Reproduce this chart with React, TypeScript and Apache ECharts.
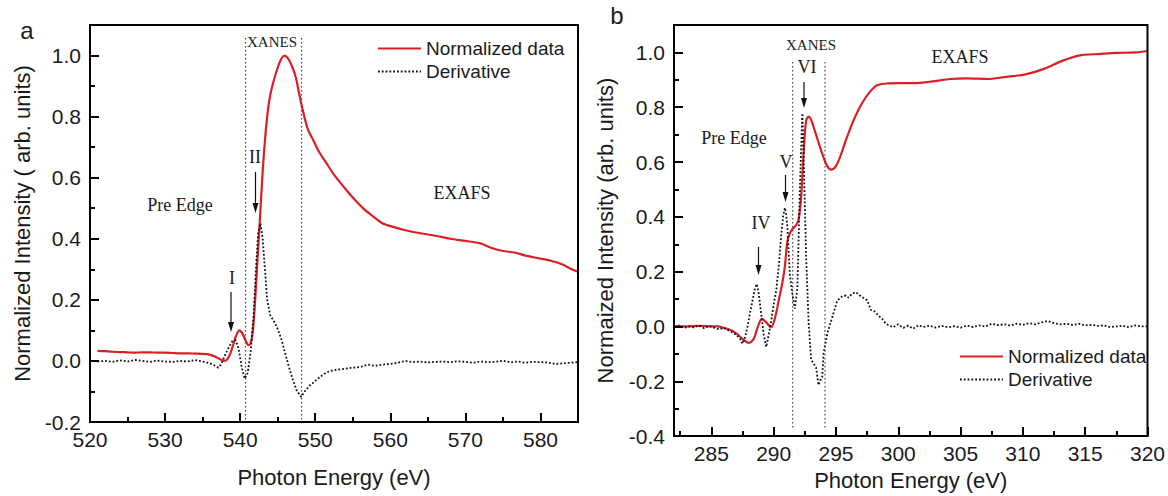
import React, { useEffect, useRef } from "react";
import * as echarts from "echarts";

// ---------- Panel a data ----------
const aNormX = [521, 522, 523, 524, 525, 526, 527, 528, 529, 530, 531, 532, 533, 534, 535, 535.5, 536, 536.5, 537, 537.5, 537.9, 538.3, 538.7, 539.1, 539.5, 539.9, 540.3, 540.7, 541.1, 541.4, 541.7, 542.0, 542.3, 542.6, 542.9, 543.2, 543.6, 544.0, 544.5, 545.0, 545.5, 545.9, 546.4, 546.9, 547.4, 547.9, 548.4, 549.0, 549.9, 550.5, 551.3, 552.5, 553.9, 555.0, 556.5, 558.0, 559.0, 560.5, 562.0, 564.0, 566.0, 568.0, 570.0, 572.0, 573.5, 575.0, 576.5, 578.0, 580.0, 581.5, 583.0, 584.0, 585.0];
const aNormY = [0.033, 0.032, 0.030, 0.029, 0.028, 0.027, 0.028, 0.028, 0.027, 0.027, 0.026, 0.025, 0.025, 0.024, 0.023, 0.022, 0.020, 0.016, 0.010, 0.003, 0.000, 0.006, 0.025, 0.055, 0.085, 0.100, 0.090, 0.068, 0.052, 0.058, 0.10, 0.20, 0.33, 0.45, 0.58, 0.69, 0.80, 0.87, 0.92, 0.96, 0.99, 1.00, 0.99, 0.965, 0.93, 0.87, 0.815, 0.76, 0.715, 0.685, 0.655, 0.61, 0.567, 0.535, 0.497, 0.468, 0.45, 0.438, 0.428, 0.418, 0.41, 0.40, 0.393, 0.385, 0.37, 0.36, 0.355, 0.345, 0.335, 0.327, 0.315, 0.302, 0.292];

const aDerX = [521, 522, 523, 524, 525, 526, 527, 528, 529, 530, 531, 532, 533, 534, 535, 536, 536.6, 537.1, 537.5, 538.0, 538.5, 539.0, 539.4, 539.8, 540.2, 540.6, 541.0, 541.4, 541.8, 542.1, 542.4, 542.7, 543.0, 543.3, 543.6, 544.0, 544.5, 545.0, 545.5, 546.0, 546.5, 547.0, 547.5, 548.1, 548.6, 549.2, 549.8, 550.5, 551.5, 552.5, 553.5, 554.7, 556, 557, 558, 559, 560, 561, 562, 563, 564, 565, 566, 567, 568, 569, 570, 571, 572, 573, 574, 575, 576, 577, 578, 579, 580, 581, 582, 583, 584, 585];
const aDerY = [-0.002, 0.0, -0.003, 0.002, -0.002, 0.003, 0.0, -0.003, 0.001, -0.002, -0.003, 0.0, -0.002, 0.003, -0.002, -0.008, -0.015, -0.022, -0.01, 0.02, 0.045, 0.066, 0.068, 0.04, -0.02, -0.058, -0.04, 0.03, 0.15, 0.30, 0.42, 0.45, 0.40, 0.30, 0.20, 0.15, 0.13, 0.105, 0.07, 0.025, -0.02, -0.06, -0.095, -0.118, -0.10, -0.082, -0.07, -0.055, -0.037, -0.03, -0.027, -0.023, -0.02, -0.012, -0.016, -0.012, -0.01, -0.006, 0.0, -0.004, -0.002, -0.005, -0.003, -0.002, -0.004, -0.001, -0.003, -0.006, -0.002, -0.004, -0.003, 0.001, -0.005, -0.002, -0.006, -0.003, -0.004, -0.005, -0.01, -0.008, -0.006, -0.004];

// ---------- Panel b data ----------
const bNormX = [282, 283, 284, 285, 285.5, 286, 286.5, 287, 287.5, 288.0, 288.4, 288.7, 289.05, 289.4, 289.8, 290.1, 290.4, 290.7, 290.9, 291.1, 291.3, 291.5, 291.8, 292.0, 292.2, 292.4, 292.6, 292.8, 293.0, 293.4, 293.9, 294.3, 294.6, 295.0, 295.4, 295.8, 296.3, 296.8, 297.3, 297.7, 298.3, 299.2, 300, 301.3, 302.5, 304.2, 305.5, 307.2, 308.5, 310.2, 311.7, 313.2, 314.7, 316.1, 317.5, 319.1, 320];
const bNormY = [0.0, 0.0, 0.002, 0.0, 0.0, -0.005, -0.012, -0.025, -0.045, -0.06, -0.045, -0.005, 0.028, 0.015, -0.003, 0.03, 0.094, 0.16, 0.22, 0.31, 0.34, 0.355, 0.37, 0.39, 0.47, 0.63, 0.75, 0.766, 0.755, 0.70, 0.63, 0.585, 0.572, 0.585, 0.627, 0.68, 0.74, 0.79, 0.83, 0.855, 0.88, 0.887, 0.888, 0.888, 0.893, 0.903, 0.905, 0.903, 0.91, 0.92, 0.94, 0.97, 0.99, 0.994, 0.998, 1.0, 1.005];

const bDerX = [282, 282.4, 282.8, 283.2, 283.6, 284.0, 284.4, 284.8, 285.2, 285.6, 286.0, 286.4, 286.7, 287.0, 287.3, 287.5, 287.7, 287.9, 288.1, 288.3, 288.5, 288.65, 288.8, 289.0, 289.2, 289.4, 289.6, 289.8, 290.0, 290.2, 290.4, 290.6, 290.75, 290.9, 291.0, 291.1, 291.3, 291.5, 291.7, 291.9, 292.1, 292.3, 292.4, 292.6, 292.8, 293.0, 293.2, 293.4, 293.6, 293.8, 293.9, 294.0, 294.3, 294.7, 295.1, 295.5, 295.8, 296.0, 296.3, 296.6, 297.0, 297.5, 297.8, 298.1, 298.4, 298.7, 299.0, 299.3, 299.6, 300.0, 300.4, 300.8, 301.2, 301.6, 302.0, 302.5, 303.0, 303.5, 304.0, 304.5, 305.0, 305.5, 306.0, 306.5, 307.0, 307.5, 308.0, 308.5, 309.0, 309.5, 310.0, 310.5, 311.0, 311.5, 312.0, 312.5, 313.0, 313.5, 314.0, 314.5, 315.0, 315.5, 316.0, 316.5, 317.0, 317.5, 318.0, 318.5, 319.0, 319.5, 320.0];
const bDerY = [0.0, 0.003, -0.005, 0.0, -0.003, 0.004, -0.006, 0.002, -0.004, -0.01, -0.005, -0.015, -0.022, -0.03, -0.045, -0.063, -0.04, 0.0, 0.05, 0.094, 0.14, 0.155, 0.12, 0.046, -0.03, -0.075, -0.03, 0.02, 0.08, 0.13, 0.215, 0.33, 0.40, 0.433, 0.41, 0.36, 0.19, 0.118, 0.065, 0.14, 0.5, 0.778, 0.63, 0.26, 0.02, -0.12, -0.135, -0.15, -0.214, -0.19, -0.184, -0.1, -0.027, 0.034, 0.094, 0.11, 0.113, 0.105, 0.12, 0.125, 0.11, 0.096, 0.06, 0.055, 0.04, 0.028, 0.01, 0.003, -0.003, 0.008, -0.005, 0.003, -0.008, 0.004, -0.002, 0.003, -0.004, 0.002, -0.003, 0.001, -0.004, 0.003, -0.002, 0.004, 0.0, 0.01, 0.005, 0.008, 0.003, 0.01, 0.006, 0.012, 0.008, 0.015, 0.02, 0.012, 0.008, 0.01, 0.005, 0.01, 0.004, 0.006, 0.002, 0.004, -0.002, 0.0, 0.003, -0.003, 0.004, 0.0, 0.0];

// ---------- Ticks ----------
const aXTicks = [520, 530, 540, 550, 560, 570, 580];
const aXMinor = [525, 535, 545, 555, 565, 575];
const aYTicks = [-0.2, 0, 0.2, 0.4, 0.6, 0.8, 1.0];
const aYMinor = [-0.1, 0.1, 0.3, 0.5, 0.7, 0.9];
const bXTicks = [285, 290, 295, 300, 305, 310, 315, 320];
const bXMinor = [282.5, 287.5, 292.5, 297.5, 302.5, 307.5, 312.5, 317.5];
const bYTicks = [-0.4, -0.2, 0, 0.2, 0.4, 0.6, 0.8, 1.0];
const bYMinor = [-0.3, -0.1, 0.1, 0.3, 0.5, 0.7, 0.9];

const seriesNames = ["Normalized data", "Derivative"];

const SANS = "'Liberation Sans', Arial, sans-serif";
const SERIF = "'Liberation Serif', 'Times New Roman', serif";
const RED = "#da1f26";
const INK = "black";

const zip = (xs: number[], ys: number[]) => xs.map((x, i) => [x, ys[i]]);

function fmtY(v: number) {
  const r = Math.round(v * 10) / 10;
  return (r === 0 ? 0 : r).toFixed(1);
}
function fmtX(v: number) {
  return String(Math.round(v));
}

function axisPair(
  dim: "x" | "y",
  gridIndex: number,
  min: number,
  max: number,
  ticks: number[],
  minor: number[],
  name: string,
  nameGap: number
) {
  const position = dim === "x" ? "bottom" : "left";
  const main: any = {
    type: "value",
    gridIndex,
    position,
    min,
    max,
    z: 10,
    name,
    nameLocation: "middle",
    nameGap,
    nameTextStyle: { fontSize: 22, fontFamily: SANS, color: "#1a1a1a" },
    axisLine: { show: true, onZero: false, lineStyle: { color: INK, width: 2 } },
    splitLine: { show: false },
    axisTick: {
      show: true,
      inside: true,
      length: 9,
      customValues: ticks,
      lineStyle: { color: INK, width: 2 },
    },
    axisLabel: {
      show: true,
      customValues: ticks,
      margin: dim === "x" ? 7 : 9,
      fontSize: 21,
      fontFamily: SANS,
      color: "#1a1a1a",
      formatter: dim === "x" ? fmtX : fmtY,
    },
  };
  if (dim === "y") main.nameRotate = 90;
  const sub: any = {
    type: "value",
    gridIndex,
    position,
    min,
    max,
    z: 10,
    axisLine: { show: true, onZero: false, lineStyle: { color: INK, width: 2 } },
    splitLine: { show: false },
    axisLabel: { show: false },
    axisTick: {
      show: true,
      inside: true,
      length: 5,
      customValues: minor,
      lineStyle: { color: INK, width: 2 },
    },
  };
  return [main, sub];
}

function txt(x: number, y: number, s: string, size: number, font = SERIF) {
  return {
    type: "text",
    x,
    y,
    silent: true,
    style: {
      text: s,
      fontSize: size,
      fontFamily: font,
      fill: "#1a1a1a",
      align: "center",
      verticalAlign: "middle",
    },
  };
}

function arrow(x: number, y1: number, y2: number) {
  return [
    {
      type: "line",
      silent: true,
      shape: { x1: x, y1, x2: x, y2: y2 - 8 },
      style: { stroke: "#111", lineWidth: 1.2 },
    },
    {
      type: "polygon",
      silent: true,
      shape: { points: [[x - 3, y2 - 10], [x + 3, y2 - 10], [x, y2]] },
      style: { fill: "#111" },
    },
  ];
}

function vline(x: number, y1: number, y2: number) {
  return {
    type: "line",
    silent: true,
    shape: { x1: x, y1, x2: x, y2 },
    style: { stroke: "#444", lineWidth: 1.2, lineDash: [1.4, 2.6] },
  };
}

const boxStyle: React.CSSProperties = { position: "fixed", left: 0, top: 0, width: 1168, height: 496 };

export default function App() {
  const baseRef = useRef<HTMLDivElement>(null);
  const overlayRef = useRef<HTMLDivElement>(null);
  useEffect(() => {
    if (!baseRef.current || !overlayRef.current) return;
    const chart = echarts.init(baseRef.current, undefined, { renderer: "svg" });
    const overlay = echarts.init(overlayRef.current, undefined, { renderer: "svg" });

    const [ax, axm] = axisPair("x", 0, 520, 585, aXTicks, aXMinor, "Photon Energy (eV)", 44);
    const [ay, aym] = axisPair("y", 0, -0.2, 1.1, aYTicks, aYMinor, "Normalized Intensity ( arb. units)", 57);
    const [bx, bxm] = axisPair("x", 1, 282, 320, bXTicks, bXMinor, "Photon Energy (eV)", 32);
    const [by, bym] = axisPair("y", 1, -0.4, 1.1, bYTicks, bYMinor, "Normaized Intensity (arb. units)", 58);

    const redStyle = { color: RED, width: 2.2 };
    const dotStyle = { color: "#111111", width: 1.8, type: [1.8, 2] as any };

    const legendBase = {
      data: seriesNames,
      orient: "vertical",
      padding: 0,
      itemWidth: 43,
      itemHeight: 14,
      itemGap: 4,
      selectedMode: false,
      itemStyle: { opacity: 0 },
      textStyle: { fontSize: 19, fontFamily: SANS, color: "#1a1a1a" },
    };

    chart.setOption({
      animation: false,
      backgroundColor: "#ffffff",
      grid: [
        { left: 90, top: 25, width: 488, height: 397, show: true, borderColor: INK, borderWidth: 2, z: 10 },
        { left: 674, top: 25, width: 477, height: 415, show: true, borderColor: INK, borderWidth: 2, z: 10 },
      ],
      xAxis: [ax, axm, bx, bxm],
      yAxis: [ay, aym, by, bym],
      legend: [
        { ...legendBase, left: 377, top: 39 },
        { ...legendBase, left: 959, top: 347 },
      ],
      series: [
        {
          name: seriesNames[0],
          type: "line",
          xAxisIndex: 0,
          yAxisIndex: 0,
          data: zip(aNormX, aNormY),
          symbol: "none",
          smooth: 0.3,
          lineStyle: redStyle,
          itemStyle: { color: RED },
        },
        {
          name: seriesNames[1],
          type: "line",
          xAxisIndex: 0,
          yAxisIndex: 0,
          data: zip(aDerX, aDerY),
          symbol: "none",
          lineStyle: dotStyle,
          itemStyle: { color: "#111111" },
        },
        {
          name: seriesNames[0],
          type: "line",
          xAxisIndex: 2,
          yAxisIndex: 2,
          data: zip(bNormX, bNormY),
          symbol: "none",
          smooth: 0.3,
          lineStyle: redStyle,
          itemStyle: { color: RED },
        },
        {
          name: seriesNames[1],
          type: "line",
          xAxisIndex: 2,
          yAxisIndex: 2,
          data: zip(bDerX, bDerY),
          symbol: "none",
          lineStyle: dotStyle,
          itemStyle: { color: "#111111" },
        },
      ],
    });

    overlay.setOption({
      animation: false,
      graphic: [
        txt(27, 30, "a", 24, SANS),
        txt(617, 15, "b", 24, SANS),
        vline(245.5, 38, 422),
        vline(301.5, 38, 422),
        txt(272, 42, "XANES", 15),
        txt(255, 157, "II", 18),
        ...arrow(255.5, 172, 213),
        txt(232, 278, "I", 18),
        ...arrow(231, 292, 332),
        txt(180, 205, "Pre Edge", 18),
        txt(462, 193, "EXAFS", 18),
        vline(792.7, 62, 428),
        vline(825, 62, 428),
        txt(811, 45, "XANES", 15),
        txt(807, 67, "VI", 18),
        ...arrow(804, 82, 108),
        txt(786, 162, "V", 18),
        ...arrow(785.5, 175, 202),
        txt(761, 223, "IV", 18),
        ...arrow(758.5, 247, 275),
        txt(734, 138, "Pre Edge", 18),
        txt(960, 57, "EXAFS", 18),
      ],
    });
    return () => {
      chart.dispose();
      overlay.dispose();
    };
  }, []);
  return (
    <>
      <div ref={baseRef} style={{ ...boxStyle, background: "#fff" }} />
      <div ref={overlayRef} style={{ ...boxStyle, pointerEvents: "none" }} />
    </>
  );
}
